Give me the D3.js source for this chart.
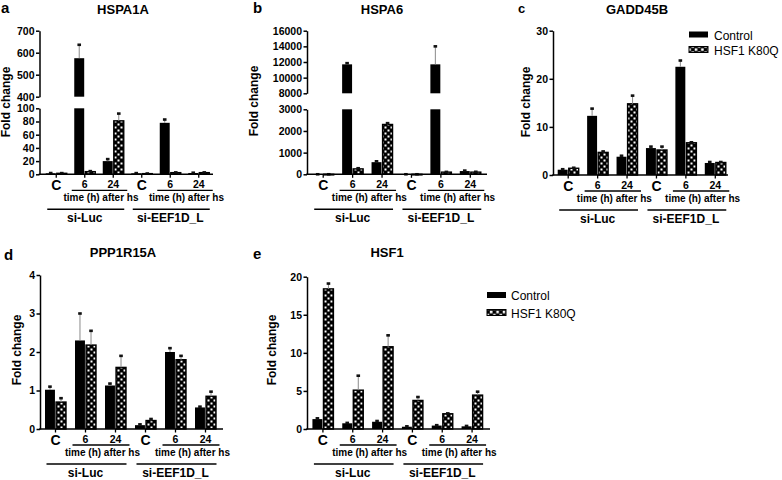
<!DOCTYPE html>
<html>
<head>
<meta charset="utf-8">
<script src="https://cdn.jsdelivr.net/npm/d3@7"></script>
<style>
    body { margin: 0; background: #fff; }
    svg { display: block; font-family: "Liberation Sans", Arial, sans-serif; }
</style>
</head>
<body>
<div id="chart"></div>
<script>
// ---- data ----
const series = ["Control", "HSF1 K80Q"];
const timeLabels = ["C", "6", "24", "C", "6", "24"];
const groupLabels = ["si-Luc", "si-EEF1D_L"];
const timeCaption = "time (h) after hs";

const hspa1aControl = [1.5, 575, 20, 1.5, 78, 2];
const hspa1aControlErr = [0.4, 61, 3, 0.3, 5, 0.4];
const hspa1aK80Q = [1.5, 4, 81, 1, 2.5, 2.5];
const hspa1aK80QErr = [0.3, 0.8, 11, 0.2, 0.4, 0.4];

const hspa6Control = [1, 11700, 560, 1, 11700, 150];
const hspa6ControlErr = [0.2, 150, 40, 0.2, 2300, 20];
const hspa6K80Q = [1, 250, 2300, 1, 100, 100];
const hspa6K80QErr = [0.2, 30, 60, 0.2, 10, 15];

const gadd45bControl = [1.1, 12.3, 3.8, 5.6, 22.5, 2.5];
const gadd45bControlErr = [0.1, 1.5, 0.2, 0.3, 1.3, 0.2];
const gadd45bK80Q = [1.4, 4.7, 14.8, 5.2, 6.7, 2.6];
const gadd45bK80QErr = [0.1, 0.2, 1.7, 0.7, 0.1, 0.1];

const ppp1r15aControl = [1.02, 2.3, 1.13, 0.1, 2.0, 0.56];
const ppp1r15aControlErr = [0.08, 0.7, 0.05, 0.02, 0.1, 0.02];
const ppp1r15aK80Q = [0.7, 2.18, 1.6, 0.22, 1.8, 0.85];
const ppp1r15aK80QErr = [0.1, 0.37, 0.3, 0.04, 0.1, 0.12];

const hsf1Control = [1.3, 0.75, 0.95, 0.3, 0.45, 0.35];
const hsf1ControlErr = [0.1, 0.05, 0.1, 0.05, 0.05, 0.05];
const hsf1K80Q = [18.4, 5.1, 10.8, 3.75, 2.0, 4.45];
const hsf1K80QErr = [0.7, 1.9, 1.5, 0.45, 0.05, 0.45];

// ---- panel layout ----
const panels = [
    {
        letter: "a", title: "HSPA1A", letterPos: [1, 13], titlePos: [123, 14], ylabPos: [10, 102],
        values: [hspa1aControl, hspa1aK80Q], errs: [hspa1aControlErr, hspa1aK80QErr],
        axisX: 39.5, xEnd: 213, band: [42, 213], y0: 174.3,
        segments: [
            { domain: [0, 100], range: [174.3, 108.3], ticks: [0, 20, 40, 60, 80, 100] },
            { domain: [400, 700], range: [96.7, 30.7], ticks: [400, 500, 600, 700] }
        ]
    },
    {
        letter: "b", title: "HSPA6", letterPos: [253, 13], titlePos: [382, 14], ylabPos: [258, 101],
        values: [hspa6Control, hspa6K80Q], errs: [hspa6ControlErr, hspa6K80QErr],
        axisX: 307, xEnd: 487, band: [308.5, 485], y0: 174.3,
        segments: [
            { domain: [0, 3000], range: [174.3, 109.3], ticks: [0, 1000, 2000, 3000] },
            { domain: [8000, 16000], range: [93.3, 30.7], ticks: [8000, 10000, 12000, 14000, 16000] }
        ]
    },
    {
        letter: "c", title: "GADD45B", letterPos: [518, 13], titlePos: [637, 14], ylabPos: [530, 102],
        values: [gadd45bControl, gadd45bK80Q], errs: [gadd45bControlErr, gadd45bK80QErr],
        axisX: 553, xEnd: 728, band: [553.5, 730], y0: 175,
        segments: [{ domain: [0, 30], range: [175, 30.7], ticks: [0, 10, 20, 30] }],
        legend: { x: 689, y: 31.5, gap: 15, textX: 714 }
    },
    {
        letter: "d", title: "PPP1R15A", letterPos: [4, 260], titlePos: [123, 257], ylabPos: [21, 350],
        values: [ppp1r15aControl, ppp1r15aK80Q], errs: [ppp1r15aControlErr, ppp1r15aK80QErr],
        axisX: 40, xEnd: 223, band: [40.5, 220.5], y0: 429,
        segments: [{ domain: [0, 4], range: [429, 275], ticks: [0, 1, 2, 3, 4] }]
    },
    {
        letter: "e", title: "HSF1", letterPos: [253, 259], titlePos: [387, 257], ylabPos: [276, 350],
        values: [hsf1Control, hsf1K80Q], errs: [hsf1ControlErr, hsf1K80QErr],
        axisX: 307, xEnd: 490, band: [308, 487], y0: 429,
        segments: [{ domain: [0, 20], range: [429, 276.7], ticks: [0, 5, 10, 15, 20] }],
        legend: { x: 487, y: 292, gap: 17.5, textX: 511 }
    }
];

const svg = d3.select("#chart").append("svg")
    .attr("width", 782)
    .attr("height", 480);

// checker fill for HSF1 K80Q
const defs = svg.append("defs");
function addChecker(id, cell, white) {
    const pat = defs.append("pattern")
        .attr("id", id)
        .attr("patternUnits", "userSpaceOnUse")
        .attr("width", cell * 2)
        .attr("height", cell * 2);
    const off = (cell - white) / 2;
    pat.append("rect").attr("width", cell * 2).attr("height", cell * 2).attr("fill", "#000");
    pat.append("rect").attr("x", off).attr("y", off).attr("width", white).attr("height", white).attr("fill", "#fff");
    pat.append("rect").attr("x", cell + off).attr("y", cell + off).attr("width", white).attr("height", white).attr("fill", "#fff");
}
addChecker("checker", 3, 2);
addChecker("checkerBig", 3.2, 2.6);

const fills = ["#000", "url(#checker)"];

panels.forEach(drawPanel);

function drawPanel(p) {
    const g = svg.append("g");

    const x = d3.scaleBand().domain(d3.range(timeLabels.length)).range(p.band);
    const mid = x.bandwidth() / 2;
    const xs = d3.scaleBand().domain(series).range([mid - 10.5, mid + 10.5]).paddingInner(0.1);
    const center = i => x(i) + mid;

    const segs = p.segments.map(s => ({
        ...s,
        scale: d3.scaleLinear().domain(s.domain).range(s.range)
    }));

    // bars
    series.forEach((name, si) => {
        p.values[si].forEach((v, i) => {
            const bx = x(i) + xs(name);
            segs.forEach((s, k) => {
                if (k > 0 && v <= s.domain[0]) return;
                const top = s.scale(Math.min(v, s.domain[1]));
                const bottom = s.scale(s.domain[0]);
                g.append("rect")
                    .attr("x", bx)
                    .attr("y", top)
                    .attr("width", xs.bandwidth())
                    .attr("height", Math.max(0.6, bottom - top))
                    .attr("fill", fills[si])
                    .attr("stroke", si === 1 ? "#000" : "none")
                    .attr("stroke-width", 1.4);
            });

            // error bar
            const err = p.errs[si][i];
            const s = segs.filter(s => v >= s.domain[0]).pop();
            const cx = bx + xs.bandwidth() / 2;
            const yv = s.scale(v);
            const ye = s.scale(v + err);
            g.append("line")
                .attr("x1", cx).attr("x2", cx)
                .attr("y1", yv).attr("y2", ye)
                .attr("stroke", "#8a8a8a")
                .attr("stroke-width", 1);
            g.append("rect")
                .attr("x", cx - 1.8)
                .attr("y", ye - 1.3)
                .attr("width", 3.6)
                .attr("height", 2.6)
                .attr("fill", "#111");
        });
    });

    // y axes (one per segment for broken axes)
    segs.forEach(s => {
        const ax = g.append("g")
            .attr("transform", `translate(${p.axisX},0)`)
            .call(d3.axisLeft(s.scale).tickValues(s.ticks).tickSize(3.5).tickSizeOuter(0).tickPadding(1.5).tickFormat(d3.format("d")));
        ax.selectAll("path, line").attr("stroke", "#000").attr("stroke-width", 1.5);
        ax.selectAll("text")
            .attr("font-size", 10.5)
            .attr("font-weight", "bold")
            .attr("font-family", "Liberation Sans, Arial, sans-serif")
            .attr("fill", "#000");
    });

    // x axis line and ticks
    g.append("line")
        .attr("x1", p.axisX - 0.75).attr("x2", p.xEnd)
        .attr("y1", p.y0).attr("y2", p.y0)
        .attr("stroke", "#000").attr("stroke-width", 1.5);
    timeLabels.forEach((t, i) => {
        g.append("line")
            .attr("x1", center(i)).attr("x2", center(i))
            .attr("y1", p.y0).attr("y2", p.y0 + 3.5)
            .attr("stroke", "#000").attr("stroke-width", 1.3);
        g.append("text")
            .attr("x", center(i))
            .attr("y", p.y0 + (t === "C" ? 15.5 : 13.5))
            .attr("text-anchor", "middle")
            .attr("font-size", t === "C" ? 14 : 10.5)
            .attr("font-weight", "bold")
            .text(t);
    });

    groupLabels.forEach((lab, k) => {
        const cC = center(3 * k), c6 = center(3 * k + 1), c24 = center(3 * k + 2);
        g.append("line")
            .attr("x1", c6 - 13).attr("x2", c24 + 14)
            .attr("y1", p.y0 + 16).attr("y2", p.y0 + 16)
            .attr("stroke", "#000").attr("stroke-width", 1.3);
        g.append("text")
            .attr("x", (c6 + c24) / 2 + 2)
            .attr("y", p.y0 + 27)
            .attr("text-anchor", "middle")
            .attr("font-size", 10)
            .attr("font-weight", "bold")
            .text(timeCaption);
        g.append("line")
            .attr("x1", cC - 9).attr("x2", c24 + 11)
            .attr("y1", p.y0 + 35).attr("y2", p.y0 + 35)
            .attr("stroke", "#000").attr("stroke-width", 1.5);
        g.append("text")
            .attr("x", (cC - 9 + c24 + 11) / 2 - 1)
            .attr("y", p.y0 + 48)
            .attr("text-anchor", "middle")
            .attr("font-size", 12)
            .attr("font-weight", "bold")
            .text(lab);
    });

    // labels
    g.append("text")
        .attr("x", p.letterPos[0]).attr("y", p.letterPos[1])
        .attr("font-size", p.letter === "c" ? 13 : 15)
        .attr("font-weight", "bold")
        .text(p.letter);
    g.append("text")
        .attr("x", p.titlePos[0]).attr("y", p.titlePos[1])
        .attr("text-anchor", "middle")
        .attr("font-size", 13)
        .attr("font-weight", "bold")
        .text(p.title);
    g.append("text")
        .attr("transform", `translate(${p.ylabPos[0]},${p.ylabPos[1]}) rotate(-90)`)
        .attr("text-anchor", "middle")
        .attr("font-size", 12)
        .attr("font-weight", "bold")
        .text("Fold change");

    // legend
    if (p.legend) {
        const lg = p.legend;
        series.forEach((name, si) => {
            g.append("rect")
                .attr("x", lg.x)
                .attr("y", lg.y + si * lg.gap)
                .attr("width", 19)
                .attr("height", 6)
                .attr("fill", si === 0 ? "#000" : "url(#checkerBig)")
                .attr("stroke", si === 1 ? "#000" : "none")
                .attr("stroke-width", 1);
            g.append("text")
                .attr("x", lg.textX)
                .attr("y", lg.y + si * lg.gap + 8)
                .attr("font-size", 12)
                .text(name);
        });
    }
}
</script>
</body>
</html>
